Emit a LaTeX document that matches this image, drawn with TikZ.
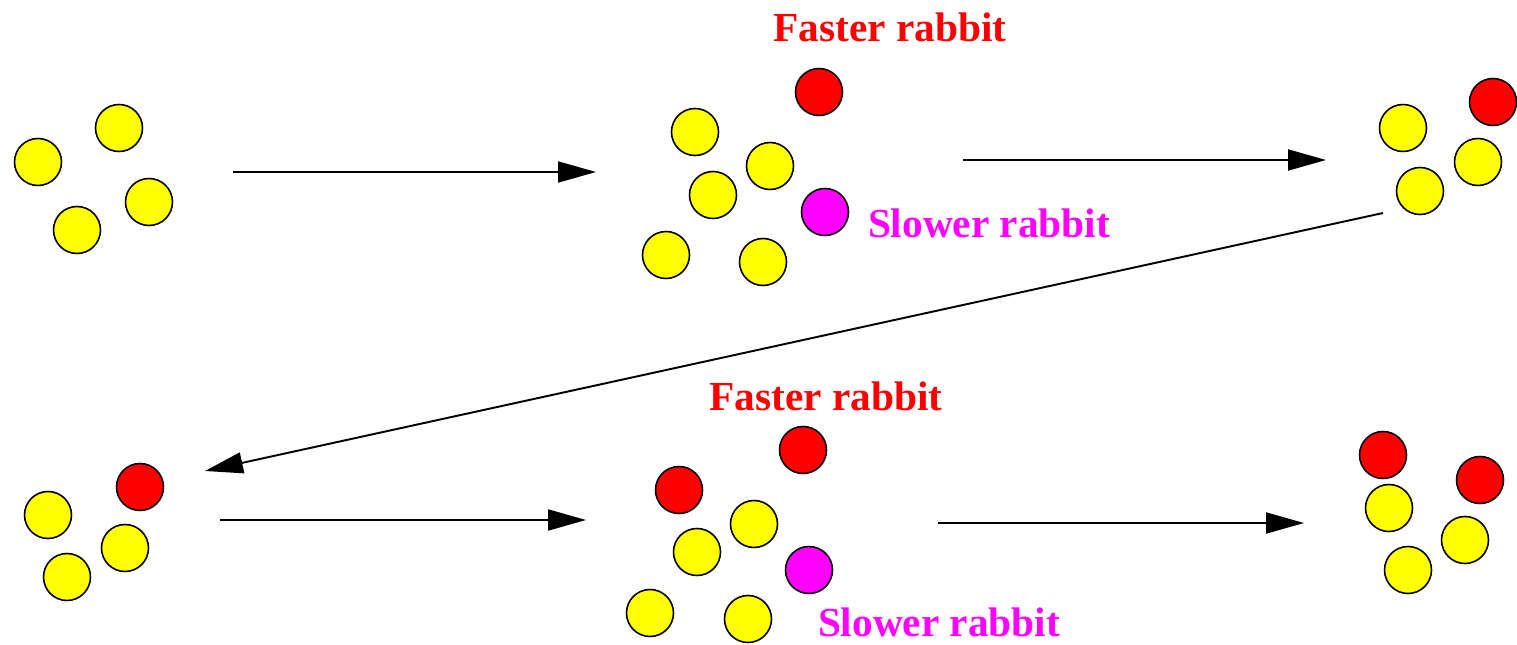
\documentclass[tikz,border=0pt]{standalone}
\usepackage{fontspec}
\setmainfont{Liberation Serif}
\usetikzlibrary{arrows.meta}
\definecolor{ylw}{RGB}{255,255,0}
\definecolor{rd}{RGB}{255,0,0}
\definecolor{mag}{RGB}{255,0,255}
\tikzset{
  ball/.style={circle, draw=black, line width=0.9pt, minimum size=0.94cm, inner sep=0pt},
  yb/.style={ball, fill=ylw},
  rb/.style={ball, fill=rd},
  mb/.style={ball, fill=mag},
  lbl/.style={font=\bfseries\fontsize{23.5}{26}\selectfont, inner sep=0pt, text depth=0pt, anchor=base},
  flow/.style={line width=1.1pt, -{Triangle[length=0.76cm, width=0.42cm]}}
}
\begin{document}
\begin{tikzpicture}[x=0.02cm, y=-0.02cm]
\useasboundingbox (0,0) rectangle (1517,645);
% group 1
\node[yb] (a1) at (38,162) {};
\node[yb] (a2) at (119,128) {};
\node[yb] (a3) at (149,202) {};
\node[yb] (a4) at (77,230) {};
% group 2
\node[rb] (b1) at (819,92) {};
\node[yb] (b2) at (695,132) {};
\node[yb] (b3) at (770,166) {};
\node[yb] (b4) at (713,195) {};
\node[mb] (b5) at (825,212) {};
\node[yb] (b6) at (666,255) {};
\node[yb] (b7) at (763,262) {};
\node[lbl, text=rd] (f1) at (890,42) {Faster rabbit};
\node[lbl, text=mag] (s1) at (989,237) {Slower rabbit};
% group 3
\node[rb] (c1) at (1493,102) {};
\node[yb] (c2) at (1403,128) {};
\node[yb] (c3) at (1478,162) {};
\node[yb] (c4) at (1420,191) {};
% group 4
\node[rb] (d1) at (140,487) {};
\node[yb] (d2) at (48,515) {};
\node[yb] (d3) at (125,548) {};
\node[yb] (d4) at (67,577) {};
% group 5
\node[rb] (e1) at (803,450) {};
\node[rb] (e2) at (679,490) {};
\node[yb] (e3) at (754,524) {};
\node[yb] (e4) at (697,552) {};
\node[mb] (e5) at (809,570) {};
\node[yb] (e6) at (650,613) {};
\node[yb] (e7) at (748,619) {};
\node[lbl, text=rd] (f2) at (826,410) {Faster rabbit};
\node[lbl, text=mag] (s2) at (939,636) {Slower rabbit};
% group 6
\node[rb] (g1) at (1383,455) {};
\node[rb] (g2) at (1480,480) {};
\node[yb] (g3) at (1389,508) {};
\node[yb] (g4) at (1465,540) {};
\node[yb] (g5) at (1408,570) {};
% arrow ends
\coordinate (p1s) at (233,172);
\coordinate (p1e) at (596,172);
\coordinate (p2s) at (963,160);
\coordinate (p2e) at (1326,160);
\coordinate (p3s) at (1383,213);
\coordinate (p3e) at (205,471);
\coordinate (p4s) at (220,520);
\coordinate (p4e) at (586,520);
\coordinate (p5s) at (938,523);
\coordinate (p5e) at (1304,523);
\draw[flow] (p1s) -- (p1e);
\draw[flow] (p2s) -- (p2e);
\draw[flow] (p3s) -- (p3e);
\draw[flow] (p4s) -- (p4e);
\draw[flow] (p5s) -- (p5e);
\end{tikzpicture}
\end{document}
